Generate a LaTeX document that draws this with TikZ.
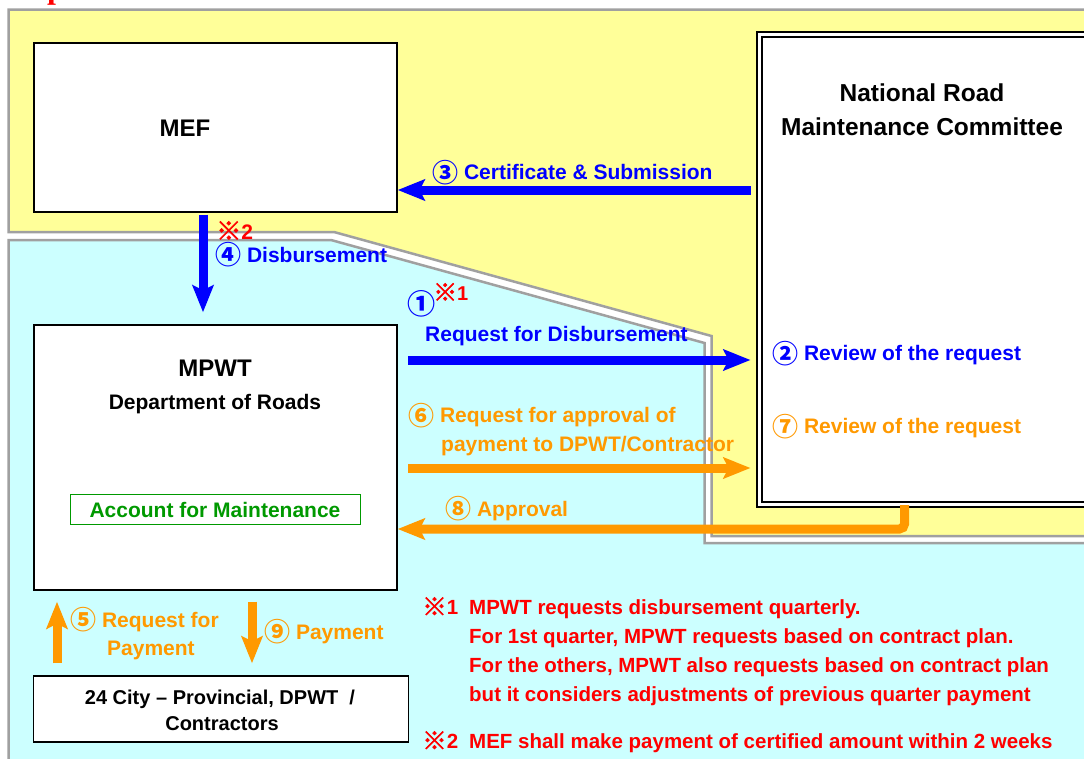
\documentclass[tikz,border=0pt]{standalone}
\usepackage{fontspec}
\setmainfont{Liberation Sans}
\newfontfamily\cjk{Noto Sans CJK JP}
\newfontfamily\cjkmark{Noto Sans CJK JP}[FakeBold=2.5]
\newfontfamily\serifr{Liberation Serif}
\usetikzlibrary{arrows.meta}

\definecolor{yel}{HTML}{FFFF99}
\definecolor{cya}{HTML}{CCFFFF}
\definecolor{rim}{HTML}{A0A0A0}
\definecolor{blu}{HTML}{0000FF}
\definecolor{org}{HTML}{FF9900}
\definecolor{grn}{HTML}{009900}
\definecolor{rd}{HTML}{FF0000}

% circled step number and reference mark
\newcommand{\cd}[1]{\raisebox{-2.5pt}{\cjk\fontsize{26}{26}\selectfont #1}}
\newcommand{\refmk}{\raisebox{-1pt}{\scalebox{1.2}{\cjkmark ※}}}

\tikzset{
  box/.style={draw=black, line width=1.4pt, fill=white, inner sep=0pt},
  lab/.style={font=\bfseries\fontsize{21}{25}\selectfont, inner sep=0pt, anchor=base west},
  ttl/.style={font=\bfseries\fontsize{24}{28}\selectfont, inner sep=0pt, anchor=base},
  note/.style={font=\bfseries\fontsize{20.5}{24}\selectfont, inner sep=0pt, anchor=base west, text=rd},
  flow/.style={line width=9pt, -{Stealth[length=27pt,width=21pt,inset=5pt]}},
}

\begin{document}
\begin{tikzpicture}[x=1pt,y=-1pt]
\clip (0,0) rectangle (1084,758);
\fill[white] (0,0) rectangle (1084,758);

% heading, cut by the upper edge
\node[text=rd, font=\serifr\bfseries\fontsize{32}{32}\selectfont, anchor=base west, inner sep=0pt] (head) at (47,-2) {p};

% two zones
\draw[rim, line width=2.5pt, fill=yel] (8.5,9.5) -- (1095,9.5) -- (1095,536) -- (711.5,536)
  -- (711.5,336) -- (334,232) -- (8.5,232) -- cycle;
\draw[rim, line width=2.5pt, fill=cya] (8.5,240) -- (331,240) -- (704.5,343) -- (704.5,543)
  -- (1095,543) -- (1095,770) -- (8.5,770) -- cycle;

% boxes
\node[box, minimum width=363pt, minimum height=169pt] (mef) at (215.5,127.5) {};
\node[ttl] (mefT) at (185,136.5) {MEF};

\node[draw=black, double=white, line width=2pt, double distance=3pt, fill=white,
      minimum width=328pt, minimum height=469.5pt, inner sep=0pt] (nrmc) at (923,269.25) {};
\node[ttl, font=\bfseries\fontsize{24.5}{29}\selectfont] (nrmcA) at (922,101.7) {National Road};
\node[ttl, font=\bfseries\fontsize{24.5}{29}\selectfont] (nrmcB) at (922,135) {Maintenance Committee};

\node[box, minimum width=363pt, minimum height=265pt] (mpwt) at (215.5,457.5) {};
\node[ttl] (mpwtA) at (215,376.5) {MPWT};
\node[ttl, font=\bfseries\fontsize{21}{25}\selectfont] (mpwtB) at (215,409.5) {Department of Roads};
\node[draw=grn, line width=1pt, fill=white, minimum width=290pt, minimum height=30pt, inner sep=0pt,
      text=grn, font=\bfseries\fontsize{21}{25}\selectfont] (acct) at (215,509.5) {Account for Maintenance};

\node[box, minimum width=375pt, minimum height=66pt] (city) at (221,709) {};
\node[ttl, font=\bfseries\fontsize{20}{24}\selectfont] (cityA) at (220,704) {24 City – Provincial, DPWT\ \ /};
\node[ttl, font=\bfseries\fontsize{20}{24}\selectfont] (cityB) at (222,730.7) {Contractors};

% levels of the connectors
\coordinate (y3) at (0,190);
\coordinate (y1) at (0,360);
\coordinate (y6) at (0,468);
\coordinate (k8) at (904.5,529);
\coordinate (x4) at (203,0);
\coordinate (x5) at (57,0);
\coordinate (x9) at (252,0);

% connectors
\draw[flow, blu, shorten <=7.5pt] (nrmc.west |- y3) -- (mef.east |- y3);
\draw[flow, blu, shorten <=2pt, shorten >=12pt] (mef.south -| x4) -- (mpwt.north -| x4);
\draw[flow, blu, shorten <=10.5pt, shorten >=7.5pt] (mpwt.east |- y1) -- (nrmc.west |- y1);
\draw[flow, org, shorten <=10.5pt, shorten >=7.5pt] (mpwt.east |- y6) -- (nrmc.west |- y6);
\draw[flow, org, rounded corners=5pt] (nrmc.south -| k8) |- (mpwt.east |- k8);
\draw[flow, org, shorten <=12pt, shorten >=11pt] (city.north -| x5) -- (mpwt.south -| x5);
\draw[flow, org, shorten <=11pt, shorten >=12pt] (mpwt.south -| x9) -- (city.north -| x9);

% connector labels
\node[lab, text=blu] (l3) at (432,179.5) {\cd{③} Certificate \& Submission};
\node[lab, text=rd] (m2) at (216,239) {\refmk2};
\node[lab, text=blu] (l4) at (215,262) {\cd{④} Disbursement};
\node[lab, text=blu] (l1) at (407,312) {\scalebox{1.08}{\cd{①}}};
\node[lab, text=rd, font=\bfseries\fontsize{20}{22}\selectfont] (m1) at (433,300) {\refmk1};
\node[lab, text=blu] (l1b) at (425,341.7) {Request for Disbursement};
\node[lab, text=blu] (l2) at (772,360.5) {\cd{②} Review of the request};
\node[lab, text=org] (l6) at (408,422.5) {\cd{⑥} Request for approval of};
\node[lab, text=org] (l6b) at (441,451) {payment to DPWT/Contractor};
\node[lab, text=org] (l7) at (772,433.5) {\cd{⑦} Review of the request};
\node[lab, text=org] (l8) at (445,516) {\cd{⑧} Approval};
\node[lab, text=org] (l5) at (70,627) {\cd{⑤} Request for};
\node[lab, text=org] (l5b) at (107,655) {Payment};
\node[lab, text=org] (l9) at (264,639) {\cd{⑨} Payment};

% notes
\node[note] (n1) at (422,614.5) {\refmk1};
\node[note] (n1a) at (469,614.5) {MPWT requests disbursement quarterly.};
\node[note] (n1b) at (469,643.5) {For 1st quarter, MPWT requests based on contract plan.};
\node[note] (n1c) at (469,672.5) {For the others, MPWT also requests based on contract plan};
\node[note] (n1d) at (469,701.5) {but it considers adjustments of previous quarter payment};
\node[note] (n2) at (422,748.5) {\refmk2};
\node[note] (n2a) at (469,748.5) {MEF shall make payment of certified amount within 2 weeks};
\end{tikzpicture}
\end{document}
